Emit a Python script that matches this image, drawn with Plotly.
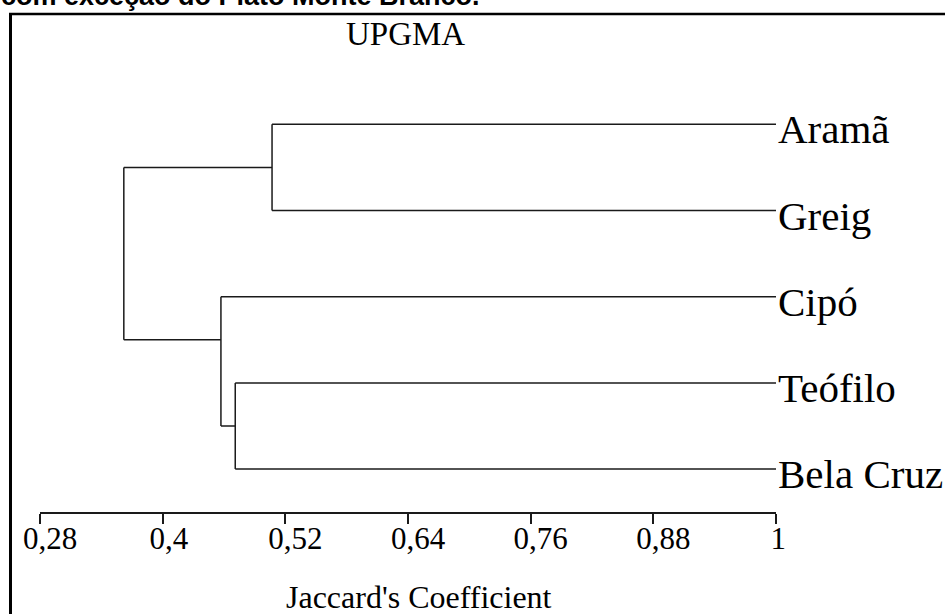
import plotly.graph_objects as go

# ---- data ----
leaves = ["Aramã", "Greig", "Cipó", "Teófilo", "Bela Cruz"]
leaf_similarity = 1.0
node_names = ["N1", "N2", "N3", "N4"]
node_children = [("Aramã", "Greig"), ("Teófilo", "Bela Cruz"), ("Cipó", "N2"), ("N1", "N3")]
node_similarity = [0.507, 0.471, 0.457, 0.362]
node_rows = [0.5, 3.5, 2.5, 1.5]  # drawn row of each cluster, as in the figure

tick_vals = [0.28, 0.4, 0.52, 0.64, 0.76, 0.88, 1.0]
tick_text = ["0,28", "0,4", "0,52", "0,64", "0,76", "0,88", "1"]
# the reference prints labels slightly right of their ticks; trailing pads pull short ones back
tick_pad = [0, 1, 0, 0, 0, 0, 2]

title_text = "com exceção do Plato Monte Branco."
method_text = "UPGMA"
axis_title = "Jaccard's Coefficient"

# ---- geometry ----
W, H = 945, 614
ML, MR, MT, MB = 40, 169, 14, 102
PW, PH = W - ML - MR, H - MT - MB
leaf_top_px, leaf_step_px = 124.3, 86.2
y_lo = (MT - leaf_top_px) / leaf_step_px
y_hi = (H - MB - leaf_top_px) / leaf_step_px


def px_x(p):
    return (p - ML) / PW


def px_y(p):
    return (H - MB - p) / PH


pos = {name: (leaf_similarity, i) for i, name in enumerate(leaves)}
xs, ys = [], []
for name, (c1, c2), sim, row in zip(node_names, node_children, node_similarity, node_rows):
    for c in (c1, c2):
        cx, cy = pos[c]
        xs += [cx, sim, None]
        ys += [cy, cy, None]
    xs += [sim, sim, None]
    ys += [pos[c1][1], pos[c2][1], None]
    pos[name] = (sim, row)

fig = go.Figure()
fig.add_trace(go.Scatter(x=xs, y=ys, mode="lines",
                         line=dict(color="#1a1a1a", width=1.5),
                         hoverinfo="skip", showlegend=False, cliponaxis=False))

serif = "Liberation Serif"
ann = []
for i, name in enumerate(leaves):
    ann.append(dict(x=leaf_similarity, y=i, xref="x", yref="y", text=name, showarrow=False,
                    xanchor="left", yanchor="middle", xshift=0, yshift=-5,
                    font=dict(family=serif, size=41, color="black")))
ann.append(dict(x=px_x(405), y=px_y(34), xref="paper", yref="paper", text=method_text,
                showarrow=False, xanchor="center", yanchor="middle",
                font=dict(family=serif, size=33, color="black")))
ann.append(dict(x=px_x(419), y=px_y(597), xref="paper", yref="paper", text=axis_title,
                showarrow=False, xanchor="center", yanchor="middle",
                font=dict(family=serif, size=32, color="black")))
ann.append(dict(x=px_x(-1), y=px_y(-4), xref="paper", yref="paper", text="<b>" + title_text + "</b>",
                showarrow=False, xanchor="left", yanchor="middle",
                font=dict(family="Liberation Sans", size=27, color="black")))

shapes = [
    dict(type="line", xref="paper", yref="paper", x0=px_x(10.5), x1=px_x(10.5),
         y0=px_y(13), y1=px_y(H + 20), line=dict(color="black", width=3)),
    dict(type="line", xref="paper", yref="paper", x0=px_x(9), x1=px_x(W + 20),
         y0=px_y(14), y1=px_y(14), line=dict(color="black", width=2.5)),
]

tick_labels = [t + "\u00a0" * p for t, p in zip(tick_text, tick_pad)]

fig.update_layout(
    width=W, height=H,
    margin=dict(l=ML, r=MR, t=MT, b=MB),
    paper_bgcolor="white", plot_bgcolor="white",
    annotations=ann, shapes=shapes, showlegend=False,
    xaxis=dict(range=[tick_vals[0], tick_vals[-1]], tickvals=tick_vals, ticktext=tick_labels,
               showline=True, linecolor="#1a1a1a", linewidth=1.5,
               ticks="outside", ticklen=10, tickwidth=1.5, tickcolor="#1a1a1a",
               showgrid=False, zeroline=False, ticklabelstandoff=-12, ticklabelshift=10,
               tickfont=dict(family=serif, size=31, color="black")),
    yaxis=dict(range=[y_hi, y_lo], visible=False, showgrid=False, zeroline=False),
)

fig.write_html("out.html")
